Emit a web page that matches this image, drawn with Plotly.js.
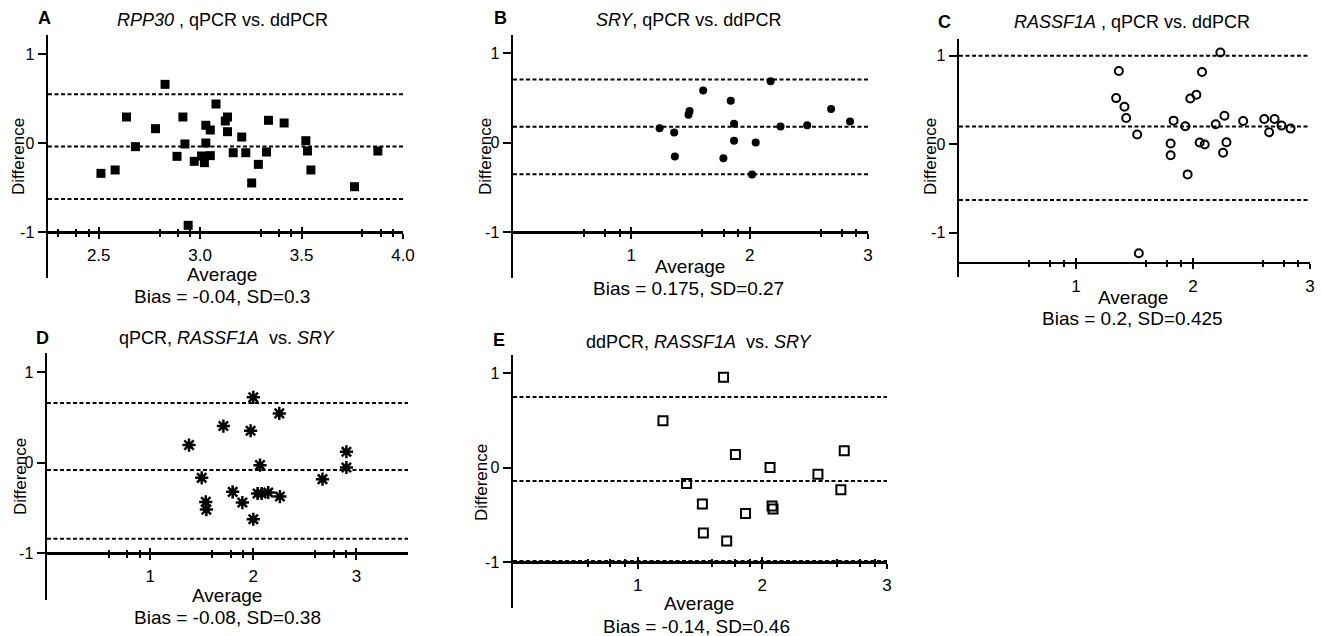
<!DOCTYPE html>
<html>
<head>
<meta charset="utf-8">
<script src="https://cdn.plot.ly/plotly-3.0.1.min.js"></script>
<style>html,body{margin:0;padding:0;background:#fff;}#chart{width:1321px;height:636px;}</style>
</head>
<body>
<div id="chart"></div>
<script>
// ---------- DATA ----------
// Panel A: RPP30, qPCR vs. ddPCR (filled squares)
const aAvg  = [2.511,2.581,2.637,2.681,2.780,2.827,2.886,2.915,2.925,2.941,2.971,3.007,3.021,3.028,3.028,3.050,3.050,3.078,3.124,3.135,3.135,3.163,3.205,3.225,3.254,3.287,3.327,3.337,3.414,3.521,3.529,3.546,3.761,3.876];
const aDiff = [-0.341,-0.303,0.292,-0.041,0.161,0.659,-0.150,0.292,-0.011,-0.925,-0.206,-0.146,-0.221,0.199,0.000,0.146,-0.142,0.438,0.247,0.292,0.127,-0.109,0.067,-0.109,-0.449,-0.240,-0.101,0.255,0.225,0.026,-0.090,-0.303,-0.491,-0.090];
const aLines = [0.548,-0.04,-0.628];
// Panel B: SRY, qPCR vs. ddPCR (filled circles)
const bAvg  = [1.239,1.362,1.368,1.483,1.492,1.607,1.778,1.840,1.868,1.868,2.020,2.051,2.177,2.261,2.486,2.688,2.848];
const bDiff = [0.160,0.112,-0.157,0.310,0.351,0.582,-0.175,0.466,0.209,0.019,-0.358,0.000,0.683,0.179,0.194,0.373,0.235];
const bLines = [0.704,0.175,-0.354];
// Panel C: RASSF1A, qPCR vs. ddPCR (open circles)
const cAvg  = [1.366,1.343,1.414,1.429,1.523,1.537,1.809,1.809,1.834,1.934,1.954,1.977,2.029,2.057,2.077,2.100,2.194,2.234,2.257,2.269,2.286,2.429,2.609,2.651,2.697,2.757,2.834];
const cDiff = [0.828,0.521,0.423,0.296,0.109,-1.232,0.007,-0.124,0.266,0.202,-0.341,0.517,0.558,0.019,0.816,-0.004,0.225,1.037,-0.097,0.322,0.022,0.262,0.285,0.135,0.285,0.210,0.176];
const cLines = [1.0,0.2,-0.63];
// Panel D: qPCR, RASSF1A vs. SRY (asterisks)
const dAvg  = [1.377,1.500,1.539,1.545,1.710,1.800,1.894,1.974,2.000,2.000,2.065,2.042,2.081,2.145,2.252,2.258,2.671,2.903,2.903];
const dDiff = [0.196,-0.166,-0.432,-0.517,0.406,-0.321,-0.439,0.354,0.723,-0.624,-0.026,-0.339,-0.339,-0.328,0.546,-0.373,-0.181,0.122,-0.052];
const dLines = [0.66,-0.08,-0.84];
// Panel E: ddPCR, RASSF1A vs. SRY (open squares)
const eAvg  = [1.203,1.392,1.519,1.527,1.689,1.714,1.784,1.865,2.062,2.078,2.086,2.446,2.630,2.657];
const eDiff = [0.498,-0.166,-0.382,-0.689,0.958,-0.774,0.141,-0.484,0.004,-0.403,-0.435,-0.067,-0.233,0.180];
const eLines = [0.75,-0.14,-0.985];

// tick labels
const aTicks = [2.5,3.0,3.5,4.0], aTickText = ['2.5','3.0','3.5','4.0'];
const aMinor = [2.30,2.39,2.45,2.80,2.89,2.95,3.30,3.39,3.45,3.80,3.89,3.95];
const bTicks = [1,2,3], bTickText = ['1','2','3'];
const bMinor = [0.60,0.78,0.90,1.60,1.78,1.90,2.60,2.78,2.90];
const yTicks = [-1,0,1], yTickText = ['-1','0','1'];

// titles
const titles = ['<i>RPP30</i> , qPCR vs. ddPCR','<i>SRY</i>, qPCR vs. ddPCR','<i>RASSF1A</i> , qPCR vs. ddPCR','qPCR, <i>RASSF1A</i>  vs. <i>SRY</i>','ddPCR, <i>RASSF1A</i>  vs. <i>SRY</i>'];
const letters = ['A','B','C','D','E'];
const biasText = ['Bias = -0.04, SD=0.3','Bias = 0.175, SD=0.27','Bias = 0.2, SD=0.425','Bias = -0.08, SD=0.38','Bias = -0.14, SD=0.46'];

// ---------- LAYOUT GEOMETRY (pixels) ----------
const W = 1321, H = 636;
const FONT = 'Liberation Sans, Arial, sans-serif';
const px = v => v / W, py = v => 1 - v / H;

const panels = [
  {avg:aAvg, diff:aDiff, lines:aLines, ticks:aTicks, ttext:aTickText, minor:aMinor, xr:[2.25,4.0],
   xL:48, xR:403, y1:54, ym1:232, top:35, bot:278, xAt:-1, sym:'square', size:9, lw:0,
   letter:[44,18], title:[222,20], diffL:[18,157], avgL:[222,274], bias:[222,296]},
  {avg:bAvg, diff:bDiff, lines:bLines, ticks:bTicks, ttext:bTickText, minor:bMinor, xr:[0,3],
   xL:513, xR:868, y1:53, ym1:232, top:35, bot:278, xAt:-1, sym:'circle', size:8, lw:0,
   letter:[500,18], title:[688,20], diffL:[485,157], avgL:[690,266], bias:[688,288]},
  {avg:cAvg, diff:cDiff, lines:cLines, ticks:bTicks, ttext:bTickText, minor:bMinor, xr:[0,3],
   xL:959, xR:1310, y1:55.7, ym1:232.7, top:39, bot:277, xAt:-1.34, sym:'circle-open', size:8, lw:2,
   letter:[945,22], title:[1132,22], diffL:[930,157], avgL:[1133,297], bias:[1132,318]},
  {avg:dAvg, diff:dDiff, lines:dLines, ticks:bTicks, ttext:bTickText, minor:bMinor, xr:[0,3.5],
   xL:47, xR:408, y1:372.3, ym1:553.3, top:353, bot:600, xAt:-1, sym:'asterisk-open', size:11, lw:2.5,
   letter:[42,338], title:[227,338], diffL:[20,477], avgL:[227,595], bias:[227,617]},
  {avg:eAvg, diff:eDiff, lines:eLines, ticks:bTicks, ttext:bTickText, minor:bMinor, xr:[0,3],
   xL:513, xR:887, y1:373.3, ym1:562.3, top:355, bot:608, xAt:-1, sym:'square-open', size:9, lw:2,
   letter:[499,340], title:[699,342], diffL:[481,483], avgL:[699,603], bias:[696,626]}
];

const data = [];
const layout = {
  width: W, height: H, margin: {l:0, r:0, t:0, b:0},
  paper_bgcolor: '#fff', plot_bgcolor: 'rgba(0,0,0,0)',
  showlegend: false, font: {family: FONT, color: '#000'},
  shapes: [], annotations: []
};

panels.forEach((p, i) => {
  const n = i + 1, m = i + 6;
  const s = (p.ym1 - p.y1) / 2;
  const yTop = 1 + (p.y1 - p.top) / s;
  const yBot = -1 - (p.bot - p.ym1) / s;
  const xAxisPx = p.ym1 - (p.xAt + 1) * s;
  const xpos = py(xAxisPx);
  const xs = n === 1 ? '' : n;

  data.push({
    type: 'scatter', mode: 'markers', x: p.avg, y: p.diff,
    xaxis: 'x' + xs, yaxis: 'y' + xs, cliponaxis: false, hoverinfo: 'x+y',
    marker: {symbol: p.sym, size: p.size, color: '#000',
             line: {color: '#000', width: p.lw}}
  });
  // invisible trace to register the overlay axis (inner half of the crossing ticks)
  data.push({
    type: 'scatter', mode: 'markers', x: [p.avg[0]], y: [p.diff[0]],
    xaxis: 'x' + m, yaxis: 'y' + xs, hoverinfo: 'skip',
    marker: {opacity: 0, size: 1}
  });

  const minorBase = {tickmode: 'array', tickvals: p.minor, ticklen: 3, tickwidth: 2, tickcolor: '#000', showgrid: false};
  const common = {
    range: p.xr, domain: [px(p.xL), px(p.xR)], anchor: 'free', position: xpos,
    showgrid: false, zeroline: false, fixedrange: true,
    tickmode: 'array', tickvals: p.ticks, ticktext: p.ttext,
    tickwidth: 2, tickcolor: '#000', ticklen: 5
  };
  layout['xaxis' + xs] = Object.assign({}, common, {
    ticks: 'outside', showline: true, linecolor: '#000', linewidth: 2.5,
    ticklabelstandoff: 2,
    tickfont: {family: FONT, size: 17, color: '#000'},
    minor: Object.assign({}, minorBase, {ticks: 'outside'})
  });
  layout['xaxis' + m] = Object.assign({}, common, {
    overlaying: 'x' + xs, ticks: 'inside', showline: false, showticklabels: false,
    minor: Object.assign({}, minorBase, {ticks: 'inside'})
  });
  layout['yaxis' + xs] = {
    range: [yBot, yTop], domain: [py(p.bot), py(p.top)], anchor: 'x' + xs,
    showgrid: false, zeroline: false, fixedrange: true,
    showline: true, linecolor: '#000', linewidth: 2.5,
    ticks: 'outside', ticklen: 8, tickwidth: 2, tickcolor: '#000',
    tickmode: 'array', tickvals: yTicks, ticktext: yTickText,
    tickfont: {family: FONT, size: 16, color: '#000'}
  };

  // limits of agreement and bias lines
  p.lines.forEach(v => {
    layout.shapes.push({
      type: 'line', xref: 'x' + xs + ' domain', yref: 'y' + xs,
      x0: 0, x1: 1, y0: v, y1: v,
      line: {color: '#000', width: 2, dash: '4px,2.5px'}
    });
  });

  const ann = (pos, text, size, extra) => layout.annotations.push(Object.assign({
    xref: 'paper', yref: 'paper', x: px(pos[0]), y: py(pos[1]),
    xanchor: 'center', yanchor: 'middle', showarrow: false, text: text,
    font: {family: FONT, size: size, color: '#000'}
  }, extra || {}));
  ann(p.letter, '<b>' + letters[i] + '</b>', 18);
  ann(p.title, titles[i], 18);
  ann(p.diffL, 'Difference', 17, {textangle: -90});
  ann(p.avgL, 'Average', 19);
  ann(p.bias, biasText[i], 19);
});

Plotly.newPlot('chart', data, layout, {staticPlot: true, displayModeBar: false});
</script>
</body>
</html>
